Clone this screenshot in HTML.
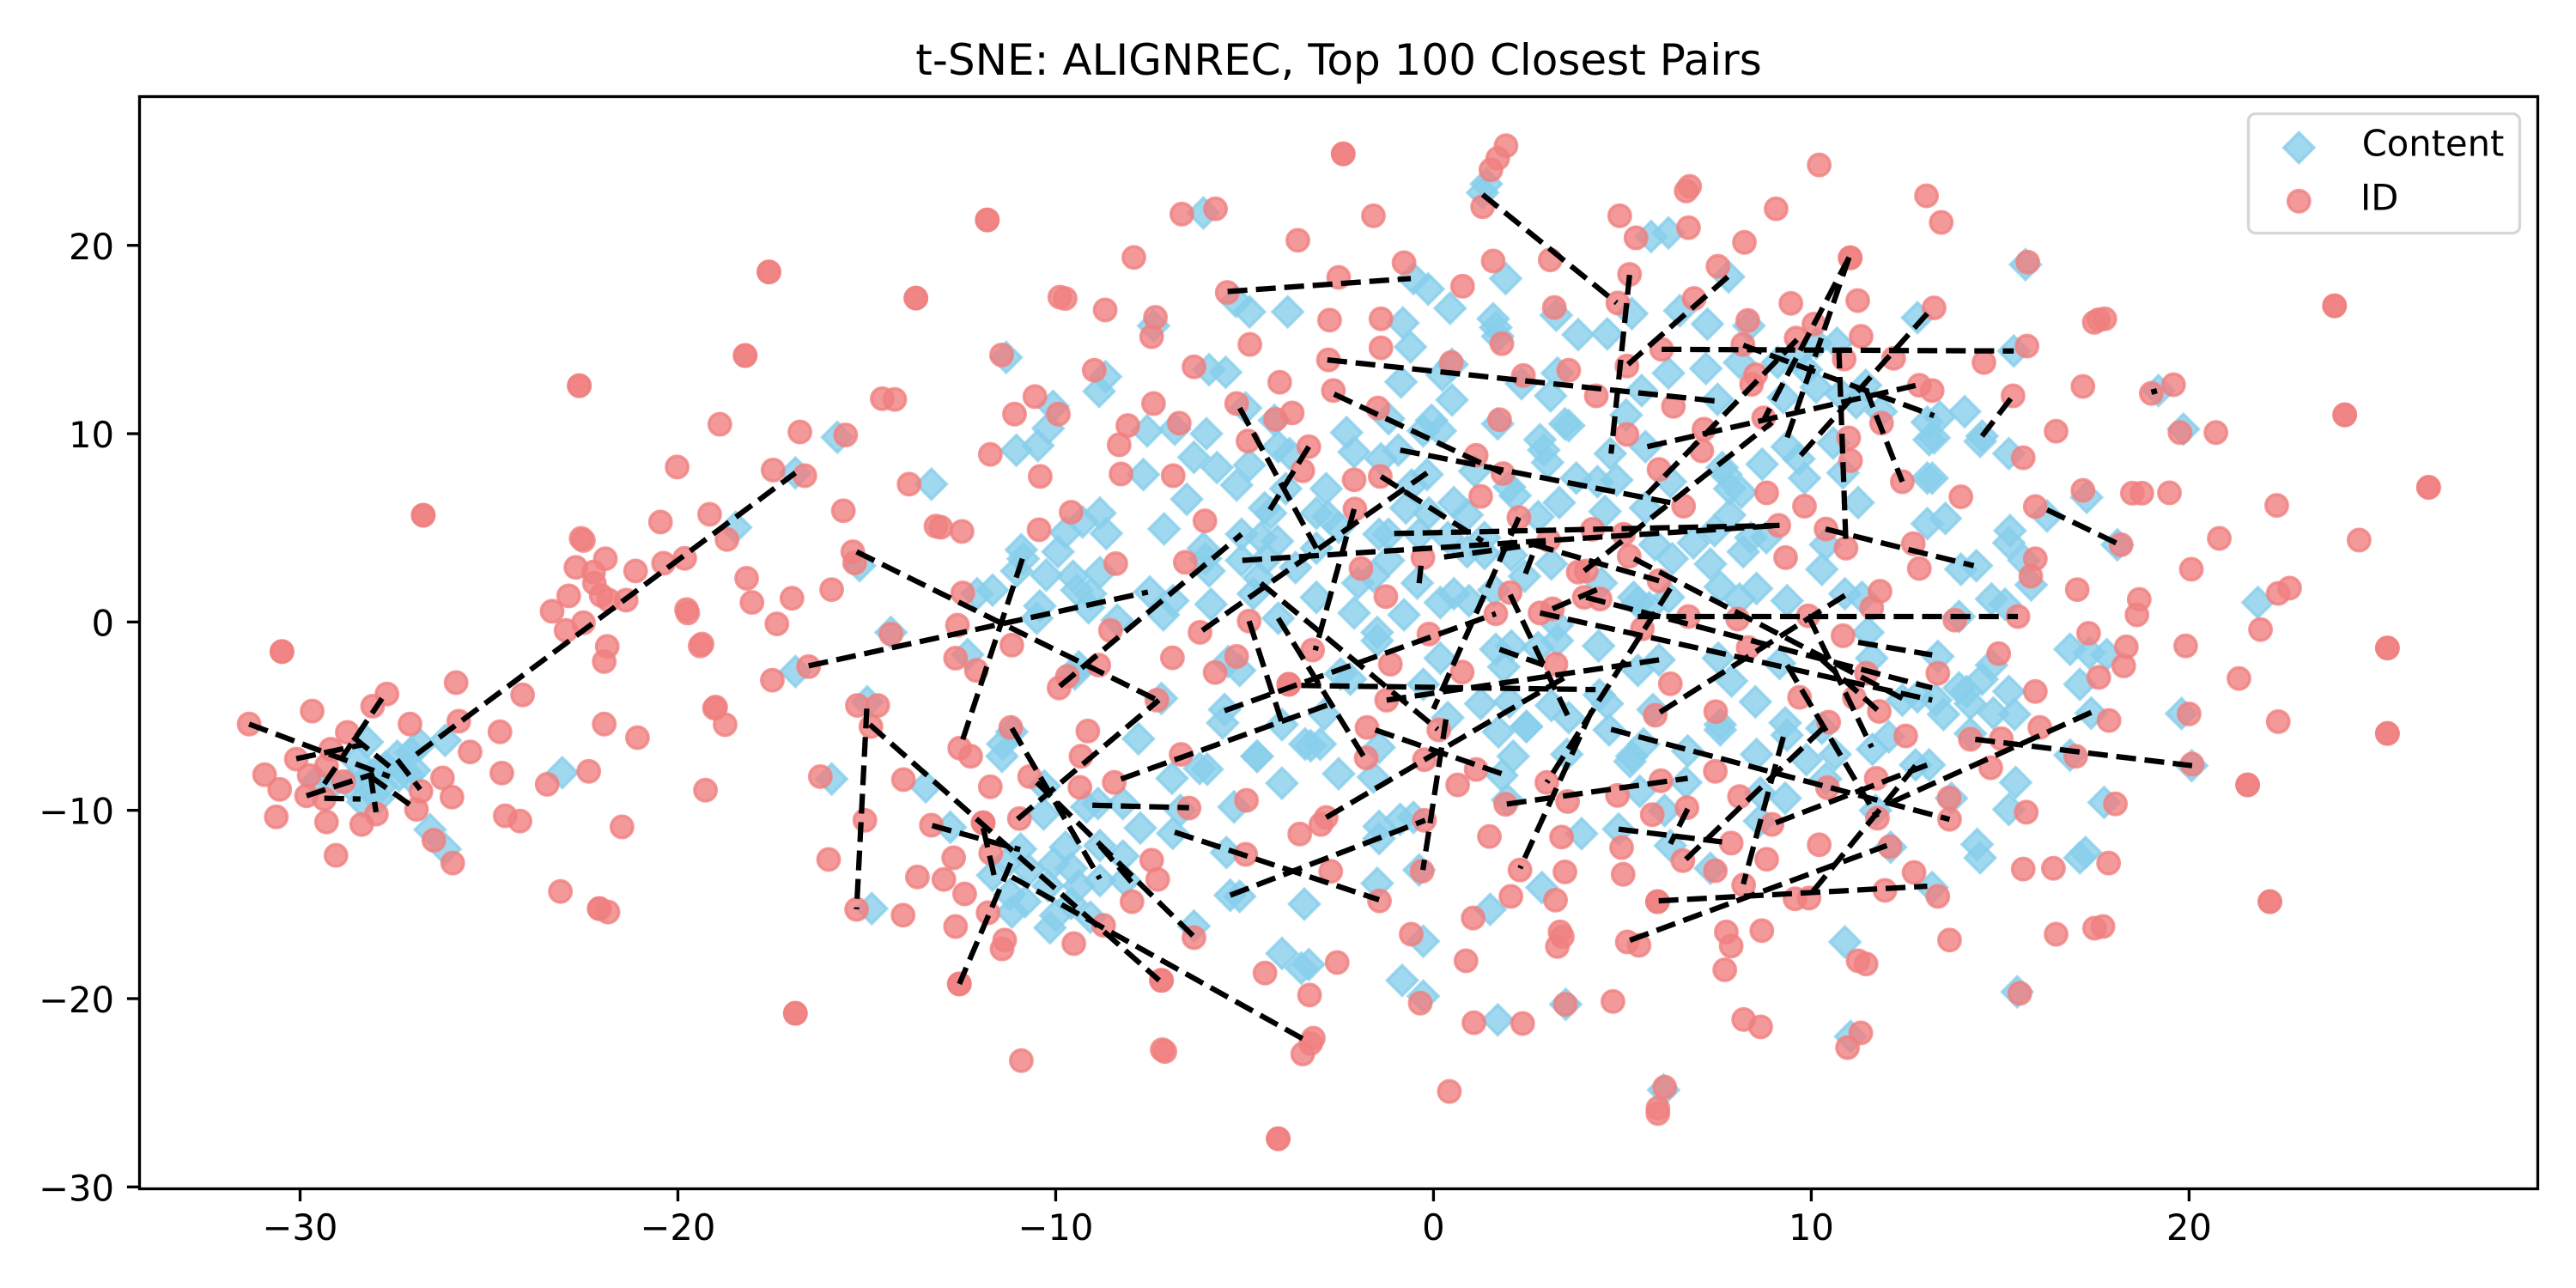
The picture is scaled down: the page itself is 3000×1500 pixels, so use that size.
<!DOCTYPE html>
<html>
<head>
<meta charset="utf-8">
<title>t-SNE: ALIGNREC, Top 100 Closest Pairs</title>
<style>
html,body{margin:0;padding:0;background:#fff;}
svg{display:block;font-family:"DejaVu Sans","Liberation Sans",sans-serif;}
</style>
</head>
<body>
<svg id="chart" xmlns="http://www.w3.org/2000/svg" width="3000" height="1500" viewBox="0 0 3000 1500">
<rect x="0" y="0" width="3000" height="1500" fill="#fff"/>
<g id="marks-content"></g>
<g id="marks-id"></g>
<g id="marks-pairs"></g>
<g id="x-axis"></g>
<g id="y-axis"></g>
<rect x="162.5" y="112.5" width="2793" height="1272" fill="none" stroke="#000" stroke-width="3.33"/>
<text x="1559" y="87" font-size="50" text-anchor="middle" fill="#000">t-SNE: ALIGNREC, Top 100 Closest Pairs</text>
<g>
<rect x="2618.5" y="132.5" width="316" height="139" rx="8.3" fill="#fff" fill-opacity="0.8" stroke="#d6d6d6" stroke-width="3.33"/>
<polygon points="2677.3,154.5 2694.8,172 2677.3,189.5 2659.8,172" fill="#87ceeb" fill-opacity="0.8" stroke="#87ceeb" stroke-opacity="0.8" stroke-width="3.5"/>
<circle cx="2677.3" cy="234.3" r="12.7" fill="#f08080" fill-opacity="0.8" stroke="#f08080" stroke-opacity="0.8" stroke-width="3.5"/>
<text x="2750.7" y="181.7" font-size="41.67" fill="#000">Content</text>
<text x="2749" y="244.3" font-size="41.67" fill="#000">ID</text>
</g>
</svg>
<script>
const xTicks = [-30, -20, -10, 0, 10, 20];
const yTicks = [-30, -20, -10, 0, 10, 20];
const xDomain = [-34.25, 29.23];
const yDomain = [-30.1, 27.9];

const contentPoints = [
[-26.16,-6.29],[-23.06,-8.0],[-26.56,-11.03],[-26.16,-12.06],[-28.22,-6.38],[-28.49,-7.41],[-27.43,-7.13],[-26.82,-6.51],[-27.07,-6.94],[-26.97,-7.87],[-27.73,-7.69],[-28.04,-8.06],[-28.34,-8.52],[-27.84,-8.71],[-28.34,-9.55],[-27.93,-9.36],[-27.38,-8.15],[-27.12,-8.15],[-29.1,-8.52],[-29.56,-8.43],[-28.7,-8.61],
[-6.09,21.72],[-7.41,15.73],[-11.31,14.05],[-8.68,13.03],[-8.85,12.25],[-10.07,11.45],[-10.2,10.28],[-10.47,9.37],[-11.04,9.12],[-15.78,9.81],[-13.29,7.32],[-16.89,7.92],[-18.47,5.03],[-15.19,2.99],[-5.94,13.4],[-5.5,13.26],[-5.23,17.03],[-4.87,16.47],[-3.86,16.47],[-4.97,11.36],[-4.21,10.71],[-7.58,10.15],[-6.85,10.24],[-6.01,10.0],[-6.34,8.75],[-5.73,8.2],[-4.87,8.33],[-5.21,7.27],[-7.68,7.83],[-4.11,9.31],[-3.81,8.94],[-6.53,6.52],[-7.13,4.94],[-8.83,5.78],[-9.29,5.31],[-9.74,4.75],[-8.66,4.7],[-9.94,3.73],[-10.91,3.83],[-10.86,3.36],[-11.03,2.71],[-10.25,2.49],[-9.54,2.43],[-8.83,2.62],[-9.44,1.69],[-9.08,1.5],[-9.13,0.76],[-11.67,1.69],[-12.08,1.5],[-10.42,0.85],[-10.5,0.2],[-7.51,1.59],[-6.9,1.13],[-7.15,0.38],[-8.37,0.1],[-6.09,3.92],[-6.04,3.36],[-5.94,2.71],[-5.89,0.94],[-5.08,4.66],[-4.57,4.48],[-4.13,4.29],[-5.08,3.27],[-4.42,3.36],[-3.65,2.89],[-4.62,2.34],[-4.77,1.5],[-3.1,1.31],[-4.11,0.2],[-2.84,7.08],[-3.91,7.08],[-4.47,6.06],[-4.31,5.78],[-3.1,5.78],[-2.79,5.59],[-3.1,3.92],[-14.36,-0.55],
[-16.89,-2.63],[-12.33,-1.73],[-9.39,-2.38],[-9.49,-2.76],[-7.2,-4.06],[-5.53,-4.65],[-5.58,-5.36],[-5.13,-2.57],[-5.43,-2.1],[-15.93,-8.34],[-13.44,-8.75],[-11.4,-6.48],[-11.42,-7.13],[-11.16,-5.83],[-10.3,-8.71],[-10.32,-10.2],[-7.81,-6.2],[-6.92,-8.3],[-6.19,-7.78],[-5.99,-7.82],[-4.67,-7.13],[-4.67,-7.13],[-4.01,-5.45],[-4.01,-8.56],[-3.25,-6.57],[-3.4,-6.48],[-3.0,-6.48],[-2.89,-4.9],[-5.28,-9.82],[-7.76,-10.94],[-8.22,-9.64],[-8.88,-9.64],[-9.18,-9.82],[-6.9,-11.22],[-6.7,-10.0],[-12.79,-10.9],[-10.93,-12.06],[-5.48,-12.24],[-8.22,-12.43],[-9.74,-11.96],[-8.83,-11.87],[-11.21,-12.61],[-10.71,-13.17],[-11.67,-13.45],[-10.05,-12.8],[-9.59,-13.08],[-10.2,-14.01],[-9.39,-14.01],[-8.83,-13.73],[-8.17,-13.73],[-11.21,-14.47],[-10.81,-14.85],[-11.16,-15.4],[-9.59,-14.94],[-10.0,-15.59],[-10.15,-16.24],[-9.08,-15.68],[-14.87,-15.22],[-6.34,-16.15],[-5.38,-14.51],[-5.13,-14.57],[-3.42,-14.98],[-4.01,-17.6],[-3.5,-18.38],[-3.3,-18.19],[-14.99,-4.24],
[1.4,23.26],[1.3,22.8],[5.76,20.47],[6.22,20.66],[-0.53,18.24],[-0.14,17.68],[0.44,16.66],[1.91,18.24],[7.81,18.33],[-0.81,15.88],[-0.61,14.61],[1.58,16.1],[1.65,15.64],[1.7,15.17],[3.25,16.29],[3.83,15.26],[4.6,15.3],[5.25,16.38],[6.52,16.53],[7.25,15.82],[8.35,15.73],[12.81,16.16],[6.22,13.22],[7.21,13.46],[8.1,13.78],[0.49,13.68],[0.23,13.12],[-0.86,12.75],[0.49,11.79],[2.33,12.66],[3.1,12.01],[3.28,13.22],[5.51,12.29],[9.11,13.78],[10.13,14.8],[10.68,14.8],[9.62,14.15],[9.26,11.92],[10.13,12.47],[10.78,12.1],[11.44,12.57],[11.19,11.64],[7.52,11.82],[9.87,13.4],[11.85,11.17],[13.07,10.61],[13.12,9.68],[-1.19,10.8],[-0.05,10.71],[-0.27,10.15],[0.18,10.15],[-2.3,10.06],[-2.1,9.03],[1.7,10.52],[2.82,9.68],[2.92,9.13],[3.02,8.47],[3.48,10.52],[3.58,10.43],[5.1,10.99],[5.61,9.31],[4.68,8.94],[8.7,8.38],[7.74,7.83],[7.64,8.2],[8.15,6.89],[7.84,7.08],[7.84,5.68],[9.36,9.31],[9.82,7.64],[9.67,8.66],[10.84,7.92],[11.24,6.34],[13.07,7.64],[13.07,5.22],[10.58,9.5],[-1.39,8.66],[-0.93,9.13],[-0.17,7.83],[-0.58,7.27],[1.09,8.01],[2.01,7.17],[2.16,6.71],[3.78,7.64],[4.34,7.45],[4.85,7.54],[6.27,7.45],[5.61,6.06],[4.54,5.87],[3.33,6.34],[2.77,5.59],[0.54,6.34],[0.89,5.68],[-0.12,5.78],[-0.73,6.06],[-1.19,4.66],[-1.44,4.66],[-2.51,5.03],[-0.38,4.66],[0.38,4.48],[0.89,3.73],[1.35,4.48],[1.35,3.64],[2.06,3.55],[3.12,3.08],[2.41,2.43],[-1.19,3.27],[-1.59,2.43],[-2.0,2.07],[-0.43,2.07],[0.54,1.5],[0.18,1.03],[-0.78,0.38],[-2.1,0.48],[-1.49,-0.55],[0.94,1.13],[1.6,1.69],[5.86,4.11],[6.32,3.36],[6.88,4.2],[7.33,3.08],[7.44,4.85],[8.4,4.48],[8.2,3.73],[8.81,4.48],[10.38,4.11],[10.28,2.8],[7.59,1.87],[8.1,1.22],[8.55,1.78],[9.36,1.13],[5.3,1.31],[5.41,1.03],[4.44,2.07],[5.71,0.76],[6.22,1.31],[10.89,1.5],[11.34,1.31],[3.28,-0.17],[11.5,-0.55],
[0.18,-1.92],[1.65,-1.45],[1.86,-2.38],[2.06,-1.27],[2.77,-1.36],[3.28,-0.99],[4.37,-1.27],[5.41,-2.57],[5.97,-2.01],[-2.2,-3.04],[-2.46,-2.76],[-0.27,-3.31],[1.25,-4.34],[2.01,-4.24],[3.12,-4.43],[3.58,-5.08],[4.39,-3.87],[4.6,-4.34],[7.54,-1.92],[7.89,-3.13],[8.52,-4.24],[9.16,-2.2],[11.6,-1.92],[12.41,-4.15],[12.81,-3.97],[5.81,-4.65],[7.59,-5.73],[7.59,-5.45],[9.31,-5.36],[9.36,-6.01],[10.28,-5.64],[9.87,-7.31],[10.63,-7.03],[11.62,-6.76],[12.05,-6.1],[-2.51,-8.06],[-1.44,-6.66],[-1.59,-8.24],[0.38,-5.08],[1.72,-5.83],[2.46,-5.55],[2.46,-5.55],[3.53,-7.03],[2.11,-7.13],[1.81,-8.15],[1.96,-9.45],[4.65,-5.73],[5.2,-7.41],[5.25,-7.13],[5.56,-6.48],[6.73,-6.85],[6.68,-8.52],[5.46,-8.99],[6.12,-10.01],[8.55,-7.03],[8.65,-9.08],[9.31,-9.36],[8.63,-10.57],[10.38,-8.34],[11.7,-10.01],[12.76,-7.59],[13.12,-7.59],[12.1,-11.96],[-1.44,-10.85],[-0.88,-10.48],[-0.53,-10.38],[-1.44,-11.5],[-0.38,-13.17],[-1.49,-13.88],[3.92,-11.24],[4.9,-11.0],[6.27,-11.87],[7.33,-13.08],[2.87,-14.1],[1.5,-15.26],[-0.27,-16.95],[10.89,-16.99],[-0.83,-19.03],[-0.27,-19.87],[3.5,-20.3],[1.7,-21.13],[11.04,-22.01],[6.09,-24.85],[-1.49,-0.99],
[15.67,18.98],[15.36,14.39],[14.06,11.17],[13.4,10.89],[14.52,9.87],[14.47,9.59],[15.23,8.94],[13.25,9.78],[19.19,12.29],[19.85,10.24],[13.55,5.5],[16.24,5.63],[17.29,6.62],[18.1,4.1],[15.26,4.85],[15.23,4.2],[15.63,3.27],[15.82,1.97],[14.37,2.99],[13.96,2.8],[14.77,1.22],[15.13,0.94],[13.91,0.29],[21.82,1.04],[13.2,7.64],
[16.85,-1.45],[17.36,-1.64],[17.82,-1.73],[14.77,-2.29],[14.52,-3.04],[13.91,-3.5],[14.11,-3.69],[14.21,-4.34],[17.11,-3.31],[15.23,-3.69],[13.5,-4.9],[14.82,-4.84],[15.38,-4.9],[13.3,-4.15],[17.41,-4.84],[19.8,-4.86],[14.21,-5.92],[16.85,-7.07],[20.07,-7.63],[15.41,-8.52],[15.23,-9.95],[13.71,-9.36],[17.75,-9.58],[14.39,-11.81],[14.47,-12.52],[17.26,-12.24],[17.11,-12.52],[13.2,-14.1],[15.45,-19.64],[13.35,-1.83]
];

const idPoints = [
[-22.61,12.55],[-22.61,12.55],[-26.74,5.67],[-26.74,5.67],[-18.89,10.5],[-20.02,8.23],[-19.16,5.72],[-20.46,5.31],[-18.7,4.38],[-22.56,4.44],[-22.5,4.33],[-21.92,3.36],[-22.7,2.9],[-22.23,2.65],[-22.21,2.06],[-22.03,1.41],[-21.83,1.16],[-21.37,1.16],[-21.12,2.71],[-20.38,3.12],[-19.82,3.38],[-22.89,1.39],[-23.33,0.57],[-19.77,0.66],[-19.74,0.48],[-22.96,-0.45],[-22.5,-0.04],
[-21.87,-1.3],[-21.95,-2.1],[-19.36,-1.17],[-19.41,-1.27],[-30.48,-1.57],[-30.48,-1.57],[-25.87,-3.22],[-24.11,-3.87],[-27.7,-3.82],[-28.08,-4.47],[-29.68,-4.73],[-31.35,-5.42],[-27.09,-5.42],[-25.8,-5.27],[-21.95,-5.42],[-21.07,-6.14],[-24.71,-5.83],[-25.5,-6.9],[-28.75,-5.86],[-29.19,-6.76],[-30.1,-7.28],[-29.3,-7.63],[-30.94,-8.11],[-30.54,-8.89],[-29.76,-8.15],[-28.85,-8.48],[-29.83,-9.23],[-29.36,-9.4],[-26.23,-8.28],[-26.8,-8.99],[-25.98,-9.3],[-24.66,-8.02],[-22.36,-7.93],[-23.46,-8.62],[-26.92,-9.95],[-27.98,-10.2],[-28.37,-10.75],[-29.3,-10.62],[-30.63,-10.35],[-24.57,-10.29],[-24.18,-10.57],[-19.27,-8.93],[-21.48,-10.88],[-26.46,-11.59],[-25.96,-12.8],[-29.05,-12.39],[-23.11,-14.31],[-22.08,-15.22],[-22.08,-15.22],[-21.85,-15.4],[-19.03,-4.58],[-19.0,-4.52],[-18.75,-5.45],
[-11.81,21.35],[-11.81,21.35],[-17.59,18.59],[-17.59,18.59],[-13.7,17.2],[-13.7,17.2],[-18.22,14.15],[-18.22,14.15],[-9.89,17.25],[-9.75,17.18],[-8.69,16.57],[-6.66,21.66],[-5.77,21.94],[-7.93,19.36],[-3.59,20.27],[-5.46,17.5],[-2.75,16.03],[-4.86,14.74],[-2.78,13.92],[-4.07,12.73],[-2.65,12.29],[-7.36,16.18],[-7.46,15.15],[-11.43,14.18],[-8.98,13.37],[-10.55,11.97],[-11.09,11.04],[-9.93,11.04],[-7.41,11.6],[-6.73,10.56],[-8.09,10.43],[-8.32,9.41],[-6.34,13.55],[-5.21,11.6],[-3.74,11.1],[-4.18,10.76],[-4.91,9.61],[-3.3,9.31],[-3.46,8.03],[-6.89,7.77],[-8.27,7.86],[-10.41,7.73],[-11.73,8.9],[-14.26,11.82],[-14.59,11.86],[-16.77,10.09],[-15.56,9.93],[-17.48,8.07],[-16.64,7.77],[-13.88,7.32],[-15.62,5.91],[-15.37,3.73],[-15.32,3.14],[-13.17,5.09],[-13.04,5.03],[-12.48,4.81],[-18.18,2.32],[-18.04,1.04],[-16.98,1.26],[-15.93,1.72],[-17.38,-0.1],[-14.36,-0.64],[-12.46,1.54],[-12.6,-0.17],[-10.44,4.9],[-9.59,5.83],[-8.41,3.1],[-6.05,5.37],[-6.57,3.17],[-4.88,0.05],[-6.18,-0.55],[-8.55,-0.45],
[-11.16,-1.23],[-12.65,-1.92],[-12.1,-2.57],[-16.54,-2.37],[-17.5,-3.09],[-6.91,-1.9],[-5.21,-1.83],[-5.78,-2.68],[-3.2,-1.49],[-3.83,-3.31],[-3.83,-3.31],[-9.69,-2.89],[-9.91,-3.5],[-8.86,-2.29],[-7.32,-4.15],[-15.25,-4.43],[-14.71,-4.43],[-14.89,-5.55],[-11.19,-5.6],[-9.15,-5.79],[-9.33,-7.13],[-12.54,-6.7],[-12.25,-7.13],[-16.23,-8.21],[-14.03,-8.37],[-10.69,-8.21],[-11.73,-8.75],[-9.36,-8.78],[-8.45,-8.52],[-6.68,-7.03],[-4.95,-9.47],[-15.05,-10.53],[-13.29,-10.79],[-11.92,-10.66],[-11.92,-10.66],[-10.96,-10.44],[-6.47,-9.88],[-2.98,-10.75],[-2.84,-10.38],[-3.54,-11.26],[-4.97,-12.34],[-7.46,-12.65],[-7.3,-13.67],[-2.72,-13.24],[-11.72,-12.28],[-12.7,-12.52],[-16.01,-12.61],[-13.66,-13.54],[-12.96,-13.67],[-12.41,-14.44],[-7.98,-14.85],[-14.04,-15.57],[-15.27,-15.26],[-11.79,-15.44],[-12.65,-16.17],[-8.73,-16.11],[-9.52,-17.08],[-11.35,-16.89],[-11.42,-17.36],[-6.34,-16.76],[-4.46,-18.64],[-3.28,-19.81],[-12.55,-19.22],[-12.55,-19.22],[-7.2,-19.03],[-7.2,-19.03],[-2.55,-18.08],[-16.89,-20.78],[-16.89,-20.78],[-7.18,-22.71],[-7.11,-22.81],[-10.91,-23.29],[-3.18,-22.1],[-3.25,-22.38],[-3.46,-22.94],[-4.11,-27.44],[-4.11,-27.44],
[-2.39,24.86],[-2.39,24.86],[1.92,25.29],[1.7,24.62],[1.52,24.01],[1.3,22.05],[-1.59,21.57],[4.93,21.57],[6.75,20.94],[5.36,20.4],[6.78,23.13],[6.69,22.89],[10.21,24.27],[9.07,21.94],[8.23,20.16],[13.05,22.63],[13.44,21.22],[-0.78,19.08],[1.58,19.17],[0.77,17.83],[3.09,19.23],[5.19,18.46],[7.53,18.89],[11.03,19.34],[11.03,19.34],[-2.51,18.3],[3.2,16.7],[4.88,16.94],[6.9,17.18],[9.46,16.92],[11.23,17.07],[8.32,16.01],[10.07,15.82],[13.25,16.68],[-1.39,16.1],[-1.39,14.56],[1.81,14.78],[8.19,14.74],[6.04,14.48],[9.6,15.08],[11.32,15.17],[0.47,13.78],[5.12,13.59],[10.87,13.96],[12.18,14.0],[8.53,13.13],[8.42,12.62],[2.38,13.09],[3.58,13.37],[4.31,12.01],[6.35,11.45],[12.86,12.57],[13.2,12.29],[-1.47,11.36],[1.75,10.74],[8.74,10.84],[11.86,10.56],[7.16,10.24],[5.12,9.96],[7.1,9.09],[10.99,9.78],[11.04,8.57],[1.13,8.85],[5.97,8.1],[12.41,7.45],[1.84,7.88],[-2.1,7.55],[-1.41,7.73],[1.25,6.67],[8.82,6.86],[9.82,6.15],[6.62,6.15],[-2.08,6.0],[2.26,5.55],[9.14,5.13],[4.21,4.92],[5.03,4.66],[10.39,4.94],[12.7,4.16],[10.92,3.92],[3.05,4.35],[5.18,3.49],[-0.28,3.42],[9.32,3.42],[-1.92,2.84],[5.97,2.19],[3.83,2.65],[4.04,2.71],[12.86,2.84],[11.82,1.63],[-1.26,1.35],[2.03,1.56],[11.6,0.76],[3.99,1.31],[4.41,1.22],[2.82,0.48],[3.15,0.7],[1.65,0.44],[-0.12,-0.64],[6.75,0.29],[8.05,0.16],[9.92,0.33],[5.53,-0.36],[10.84,-0.73],
[-1.14,-2.24],[0.76,-2.66],[-1.24,-4.15],[-1.76,-5.6],[-1.78,-7.22],[0.14,-5.73],[-0.24,-7.31],[1.13,-7.83],[0.64,-8.65],[3.24,-2.24],[6.27,-3.28],[5.87,-4.95],[7.47,-4.76],[8.33,-1.36],[9.69,-4.0],[10.46,-5.32],[11.14,-4.02],[11.46,-2.72],[11.8,-4.75],[12.5,-6.05],[7.46,-7.93],[6.02,-8.43],[10.43,-8.8],[11.72,-8.3],[4.87,-9.21],[3.55,-9.53],[3.0,-8.52],[1.91,-9.68],[-0.24,-10.53],[5.79,-10.23],[6.71,-9.86],[8.1,-9.27],[8.96,-10.75],[11.75,-10.42],[7.88,-11.74],[10.21,-11.83],[1.48,-11.39],[3.39,-11.42],[4.98,-11.98],[12.08,-11.93],[6.6,-12.67],[7.46,-13.21],[8.82,-12.6],[-0.3,-13.23],[2.29,-13.17],[3.48,-13.27],[5.02,-13.4],[12.72,-13.3],[8.21,-13.97],[-1.43,-14.81],[2.05,-14.57],[3.23,-14.77],[5.93,-14.85],[5.93,-14.85],[9.57,-14.7],[9.94,-14.66],[11.95,-14.25],[13.35,-14.57],[1.05,-15.72],[-0.59,-16.58],[3.35,-16.46],[3.41,-16.71],[3.28,-17.23],[7.75,-16.46],[8.69,-16.39],[5.13,-16.99],[5.44,-17.17],[7.88,-17.21],[0.86,-17.99],[7.71,-18.47],[11.24,-17.99],[11.45,-18.16],[-0.35,-20.24],[3.49,-20.3],[4.75,-20.15],[1.07,-21.28],[2.36,-21.32],[8.21,-21.11],[8.66,-21.5],[11.31,-21.82],[10.96,-22.6],[0.42,-24.93],[6.12,-24.7],[5.94,-25.82],[5.94,-26.1],
[15.73,19.11],[17.77,16.1],[17.61,16.05],[17.49,15.91],[23.85,16.79],[23.85,16.79],[15.71,14.65],[14.57,13.78],[17.19,12.51],[19.59,12.6],[19.0,12.14],[15.34,12.01],[16.48,10.13],[19.76,10.06],[20.71,10.06],[24.12,11.0],[24.12,11.0],[15.61,8.72],[13.96,6.65],[17.19,6.99],[18.5,6.84],[18.75,6.84],[19.48,6.86],[22.32,6.19],[26.34,7.15],[26.34,7.15],[15.93,6.13],[18.2,4.1],[20.8,4.44],[24.5,4.35],[15.93,3.36],[15.81,2.43],[20.06,2.8],[17.04,1.72],[18.68,1.2],[18.62,0.38],[22.36,1.52],[22.66,1.8],[15.47,0.29],[13.8,0.1],[17.34,-0.6],[21.89,-0.4],
[18.34,-1.32],[18.27,-2.33],[19.91,-1.27],[25.25,-1.38],[25.25,-1.38],[14.96,-1.68],[13.35,-2.72],[17.61,-2.94],[21.32,-3.0],[15.93,-3.69],[20.0,-4.88],[17.88,-5.23],[22.36,-5.29],[16.05,-5.6],[15.03,-6.2],[14.21,-6.23],[25.25,-5.92],[25.25,-5.92],[17.0,-7.13],[14.75,-7.74],[20.08,-7.55],[21.55,-8.65],[21.55,-8.65],[13.65,-9.34],[13.66,-10.48],[18.05,-9.66],[15.69,-10.1],[17.87,-12.8],[15.61,-13.12],[16.41,-13.08],[22.14,-14.85],[22.14,-14.85],[17.72,-16.17],[17.5,-16.26],[16.48,-16.58],[13.66,-16.89],[15.52,-19.72]
];

const pairStarts = [
[-31.35,-5.42],[-30.1,-7.26],[-29.83,-9.23],[-29.36,-9.36],[-29.36,-8.6],[-28.14,-8.06],[-27.43,-7.31],[-28.14,-8.2],[-28.6,-6.1],[-26.92,-7.03],
[-15.27,3.73],[-10.88,3.36],[-16.54,-2.33],[-9.89,-3.41],[-5.45,17.55],[-5.13,11.36],[-3.3,9.31],[-5.06,3.27],[-6.12,-0.45],[-4.57,2.06],
[-0.88,9.13],[-2.63,12.1],[-2.81,13.92],[1.3,22.7],[5.19,18.43],[7.79,18.33],[6.04,14.48],[11.0,19.36],[11.0,19.36],[9.62,14.99],
[8.2,14.7],[5.66,9.31],[10.73,14.52],[10.38,4.94],[9.72,8.85],[11.44,12.38],[-1.39,7.73],[-1.04,4.7],[0.28,3.45],[-2.1,6.0],
[-4.88,0.05],[-8.27,-8.34],[-5.53,-4.71],[-4.11,0.2],[-1.24,-4.15],[-3.5,-3.37],[-2.84,-10.38],[-5.38,-14.51],[-6.85,-11.16],[-1.54,-5.73],
[0.33,-5.17],[2.26,5.55],[2.03,1.45],[1.75,-1.45],[2.62,3.55],[6.27,1.78],[4.19,-4.71],[1.94,-9.67],[4.7,-5.7],[9.06,-10.66],
[10.05,-14.29],[17.41,-4.8],[5.2,-16.9],[9.26,-6.1],[10.31,-5.64],[9.36,-2.29],[9.92,0.33],[4.9,-11.0],[6.73,-9.92],[5.96,-14.81],
[11.24,-1.08],[2.82,0.48],[5.31,3.36],[4.04,1.31],[2.67,4.1],[3.15,0.7],[3.99,2.71],[5.41,0.29],[10.89,1.41],[-0.33,2.99],
[10.28,-2.01],[19.0,12.2],[15.28,11.86],[16.24,5.96],[14.34,-6.23],[-15.0,-4.6],[-14.92,-5.45],[-13.27,-10.81],[-11.92,-10.94],[-11.19,-12.8],
[-11.16,-13.54],[-11.16,-5.64],[-11.01,-10.47],[-10.5,-8.52],[-9.03,-9.73],[-8.83,-11.87]
];

const pairEnds = [
[-27.63,-8.21],[-28.34,-6.51],[-28.04,-8.06],[-28.4,-9.4],[-27.83,-4.06],[-27.99,-10.1],[-26.82,-8.89],[-26.92,-9.95],[-27.63,-7.68],[-16.89,7.92],
[-7.31,-4.15],[-12.53,-6.66],[-7.56,1.59],[-5.08,4.66],[-0.6,18.24],[-3.1,3.92],[-4.33,5.96],[9.16,5.13],[-0.17,7.92],[0.11,-5.7],
[6.27,6.34],[1.81,7.92],[7.49,11.73],[4.85,16.94],[4.7,8.94],[5.15,13.68],[15.36,14.39],[9.31,9.5],[8.76,10.8],[5.66,6.8],
[13.25,10.95],[12.76,12.56],[10.92,3.98],[14.3,2.99],[13.07,16.38],[12.41,7.45],[1.3,4.29],[9.16,5.13],[2.97,4.2],[-3.13,-1.5],
[-4.01,-5.36],[-2.71,-4.34],[1.65,0.44],[-1.8,-7.3],[5.97,-2.01],[4.29,-3.59],[3.63,-2.76],[-0.22,-10.53],[-1.44,-14.75],[1.81,-8.06],
[-0.28,-13.17],[0.0,-4.62],[3.58,-5.08],[2.92,-2.29],[2.42,2.5],[3.0,-8.52],[2.29,-13.08],[6.73,-8.3],[13.66,-10.48],[13.07,-7.59],
[12.76,-7.63],[11.95,-9.73],[12.0,-11.87],[8.2,-13.92],[6.68,-12.6],[11.75,-10.38],[11.6,-6.66],[7.64,-11.68],[6.27,-11.78],[13.07,-14.03],
[13.2,-1.75],[13.2,-4.15],[12.41,-4.06],[13.2,-3.5],[5.97,2.19],[4.4,1.78],[8.96,10.6],[15.47,0.29],[5.99,-4.8],[-0.38,2.06],
[11.75,-4.67],[19.15,12.28],[14.52,9.87],[18.07,4.2],[20.08,-7.63],[-15.27,-15.25],[-7.26,-19.03],[-10.94,-12.09],[-11.62,-13.54],[-12.55,-19.22],
[-3.4,-22.2],[-8.83,-13.64],[-7.27,-4.15],[-6.34,-16.71],[-6.47,-9.86],[-7.87,-14.1]
];

const plotLeft = 162.5, plotRight = 2955.5, plotTop = 112.5, plotBottom = 1384.5;
const SVG_NS = 'http://www.w3.org/2000/svg';

function xScale(v) {
  return plotLeft + (v - xDomain[0]) / (xDomain[1] - xDomain[0]) * (plotRight - plotLeft);
}
function yScale(v) {
  return plotBottom - (v - yDomain[0]) / (yDomain[1] - yDomain[0]) * (plotBottom - plotTop);
}
function make(tag, attrs) {
  const el = document.createElementNS(SVG_NS, tag);
  for (const k in attrs) el.setAttribute(k, attrs[k]);
  return el;
}
function tickText(v) {
  return String(v).replace('-', '\u2212');
}

const contentGroup = document.getElementById('marks-content');
contentPoints.forEach(function (p) {
  const cx = xScale(p[0]), cy = yScale(p[1]), h = 17.5;
  const el = make('polygon', {
    points: cx + ',' + (cy - h) + ' ' + (cx + h) + ',' + cy + ' ' + cx + ',' + (cy + h) + ' ' + (cx - h) + ',' + cy,
    fill: '#87ceeb', 'fill-opacity': 0.8, stroke: '#87ceeb', 'stroke-opacity': 0.8, 'stroke-width': 3.5
  });
  
  
  contentGroup.appendChild(el);
});

const idGroup = document.getElementById('marks-id');
idPoints.forEach(function (p) {
  const el = make('circle', {
    cx: xScale(p[0]), cy: yScale(p[1]), r: 12.7,
    fill: '#f08080', 'fill-opacity': 0.8, stroke: '#f08080', 'stroke-opacity': 0.8, 'stroke-width': 3.5
  });
  
  
  idGroup.appendChild(el);
});

const pairGroup = document.getElementById('marks-pairs');
pairStarts.forEach(function (s, i) {
  const e = pairEnds[i];
  const el = make('line', {
    x1: xScale(s[0]), y1: yScale(s[1]), x2: xScale(e[0]), y2: yScale(e[1]),
    stroke: '#000', 'stroke-width': 6.25, 'stroke-dasharray': '23.1 10'
  });
  
  
  pairGroup.appendChild(el);
});

const xAxisGroup = document.getElementById('x-axis');
xTicks.forEach(function (v) {
  const x = xScale(v);
  const tick = make('line', { x1: x, x2: x, y1: plotBottom, y2: plotBottom + 14.6, stroke: '#000', 'stroke-width': 3.33 });
  
  
  xAxisGroup.appendChild(tick);
  const label = make('text', { x: x, y: 1444, 'font-size': 41.67, 'text-anchor': 'middle', fill: '#000' });
  label.textContent = tickText(v);
  
  
  xAxisGroup.appendChild(label);
});

const yAxisGroup = document.getElementById('y-axis');
yTicks.forEach(function (v) {
  const y = yScale(v);
  const tick = make('line', { x1: plotLeft - 14.6, x2: plotLeft, y1: y, y2: y, stroke: '#000', 'stroke-width': 3.33 });
  
  
  yAxisGroup.appendChild(tick);
  const label = make('text', { x: 133, y: y + 16, 'font-size': 41.67, 'text-anchor': 'end', fill: '#000' });
  label.textContent = tickText(v);
  
  
  yAxisGroup.appendChild(label);
});
</script>
</body>
</html>
